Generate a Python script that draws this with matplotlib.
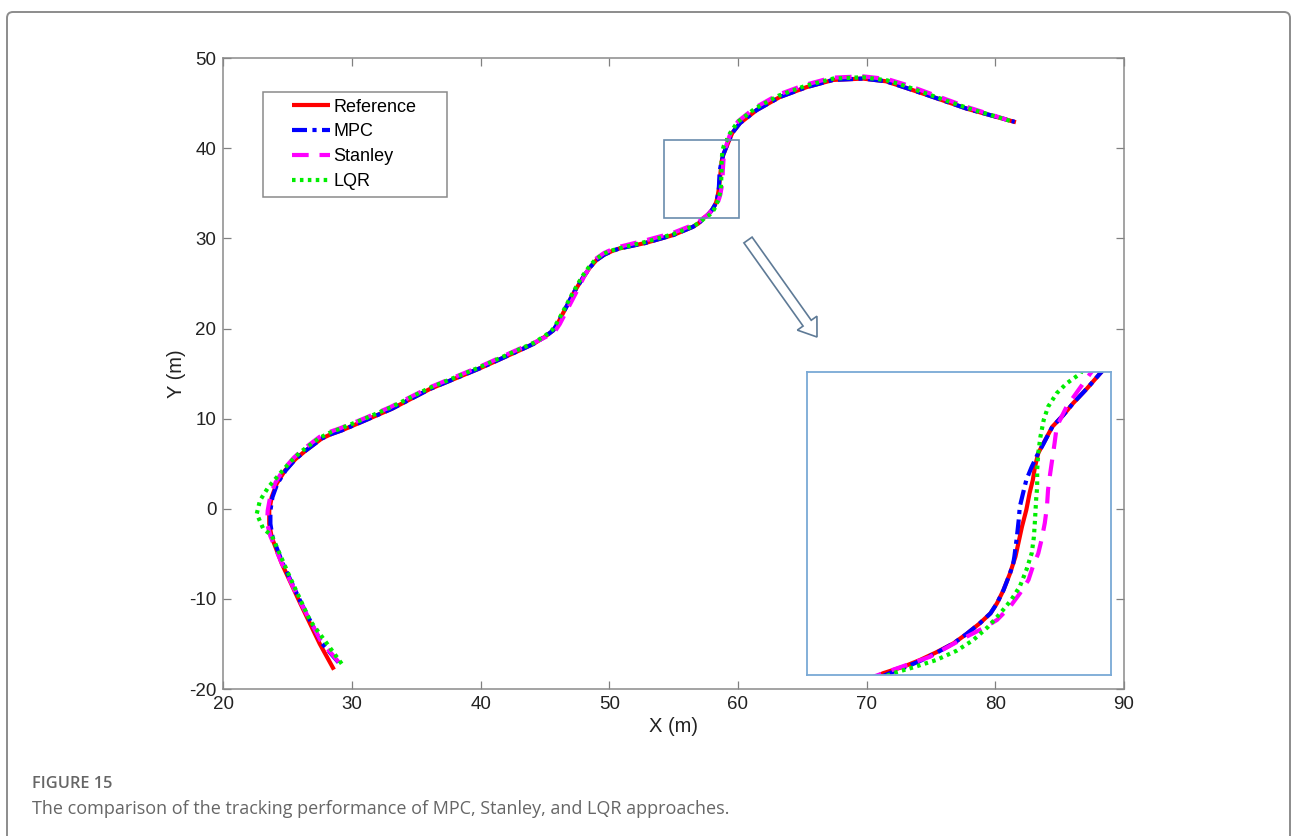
import matplotlib
matplotlib.use("Agg")
import matplotlib.pyplot as plt
from matplotlib.patches import Rectangle, FancyArrow, FancyBboxPatch
from matplotlib.transforms import IdentityTransform

# ---------------- data, by path section ----------------
# Reference
ref_x_start = [28.6, 27.5, 26.0, 24.55, 23.76, 23.57, 23.57, 23.76, 24.15, 24.8]
ref_y_start = [-17.85, -15.0, -10.55, -6.1, -3.15, -1.67, -0.2, 1.3, 2.8, 4.26]
ref_x_mid = [25.6, 26.35, 27.65, 28.4, 29.2, 31.0, 33.1, 36.06, 39.95, 43.05, 44.1, 45.0, 45.64,
             46.0, 46.4, 47.2, 47.97, 48.5, 49.0, 49.6, 50.2, 50.8, 52.8, 55.0, 56.5, 56.95]
ref_y_mid = [5.5, 6.4, 7.8, 8.3, 8.7, 9.8, 11.1, 13.3, 15.6, 17.6, 18.3, 19.1, 19.8,
             20.6, 21.7, 23.9, 25.7, 26.8, 27.6, 28.2, 28.6, 28.9, 29.5, 30.4, 31.3, 31.7]
ref_x_zoom = [57.3, 57.49, 57.64, 57.79, 57.95, 58.07, 58.19, 58.29, 58.35, 58.41, 58.47, 58.50,
              58.52, 58.58, 58.62, 58.65, 58.68, 58.70, 58.73, 58.77, 58.81, 58.86, 58.96, 59.05,
              59.18, 59.30]
ref_y_zoom = [32.25, 32.44, 32.63, 32.85, 33.11, 33.38, 33.68, 33.97, 34.26, 34.64, 35.12, 35.41,
              35.6, 36.46, 36.94, 37.42, 37.80, 38.18, 38.57, 38.81, 39.04, 39.33, 39.66, 40.0,
              40.43, 40.86]
ref_x_end = [59.55, 60.15, 61.45, 63.25, 65.33, 67.4, 69.7, 71.5, 73.1, 75.17, 77.8, 81.6]
ref_y_end = [41.7, 42.8, 44.25, 45.7, 46.8, 47.6, 47.75, 47.45, 46.7, 45.7, 44.4, 42.9]

# MPC
mpc_x_start = [28.95, 27.6, 26.05, 24.6, 23.82, 23.66, 23.66, 23.82, 24.2, 24.85]
mpc_y_start = [-17.05, -14.8, -10.45, -6.0, -3.1, -1.67, -0.2, 1.3, 2.8, 4.26]
mpc_x_mid = ref_x_mid
mpc_y_mid = ref_y_mid
mpc_x_zoom = [57.36, 57.52, 57.66, 57.80, 57.95, 58.07, 58.19, 58.29, 58.35, 58.41, 58.47, 58.50,
              58.51, 58.53, 58.55, 58.56, 58.59, 58.62, 58.67, 58.72, 58.78, 58.86, 58.96, 59.05,
              59.18, 59.30]
mpc_y_zoom = [32.25, 32.44, 32.63, 32.85, 33.11, 33.38, 33.68, 33.97, 34.26, 34.64, 35.12, 35.41,
              35.6, 36.08, 36.65, 37.03, 37.42, 37.8, 38.18, 38.51, 38.85, 39.33, 39.66, 40.0,
              40.43, 40.86]
mpc_x_end = [59.55, 60.15, 61.45, 63.25, 65.33, 67.4, 69.7, 71.5, 73.1, 75.17, 77.8, 81.5]
mpc_y_end = [41.7, 42.8, 44.25, 45.7, 46.8, 47.6, 47.75, 47.45, 46.7, 45.7, 44.4, 42.95]

# Stanley
stan_x_start = [28.95, 27.55, 26.0, 24.5, 23.65, 23.4, 23.45, 23.65, 24.05, 24.7]
stan_y_start = [-17.0, -14.6, -10.4, -5.9, -3.0, -1.6, -0.2, 1.4, 2.9, 4.4]
stan_x_mid = [25.5, 26.2, 27.5, 28.3, 29.1, 30.9, 33.0, 36.0, 39.9, 43.0, 44.1, 45.1, 45.8,
              46.15, 46.55, 47.35, 48.05, 48.55, 49.0, 49.6, 50.15, 50.7, 52.7, 54.9, 56.4, 56.9]
stan_y_mid = [5.7, 6.6, 8.0, 8.55, 8.95, 10.0, 11.3, 13.45, 15.75, 17.75, 18.4, 19.1, 19.75,
              20.5, 21.6, 23.8, 25.8, 27.0, 27.8, 28.4, 28.75, 29.05, 29.75, 30.6, 31.45, 31.8]
stan_x_zoom = [57.30, 57.52, 57.73, 57.90, 58.07, 58.22, 58.35, 58.47, 58.56, 58.64, 58.68,
               58.73, 58.76, 58.79, 58.81, 58.82, 58.84, 58.88, 58.90, 58.99, 59.10, 59.21]
stan_y_zoom = [32.25, 32.49, 32.72, 33.01, 33.3, 33.54, 33.78, 34.16, 34.54, 34.93, 35.31,
               35.69, 36.08, 36.56, 37.03, 37.51, 37.99, 38.85, 39.33, 39.9, 40.38, 40.86]
stan_x_end = [59.45, 60.0, 61.3, 63.1, 65.2, 67.3, 69.7, 71.6, 73.2, 75.2, 77.8, 81.3]
stan_y_end = [41.8, 43.0, 44.5, 45.95, 47.05, 47.85, 48.0, 47.7, 47.0, 45.95, 44.6, 43.0]

# LQR
lqr_x_start = [29.2, 26.74, 25.18, 23.76, 23.1, 22.6, 22.85, 23.5, 24.4]
lqr_y_start = [-17.2, -12.4, -7.6, -2.97, -2.2, -0.55, 0.92, 2.4, 3.9]
lqr_x_mid = [25.2, 26.0, 27.4, 28.2, 29.0, 30.9, 33.0, 36.0, 39.9, 43.0, 44.1, 45.0, 45.6,
             45.95, 46.35, 47.15, 47.9, 48.45, 48.95, 49.55, 50.15, 50.75, 52.75, 55.0, 56.55, 57.0]
lqr_y_mid = [5.2, 6.3, 7.8, 8.4, 8.85, 9.95, 11.25, 13.4, 15.7, 17.7, 18.4, 19.2, 19.9,
             20.7, 21.75, 23.95, 25.8, 26.9, 27.7, 28.3, 28.65, 28.9, 29.6, 30.5, 31.4, 31.75]
lqr_x_zoom = [57.39, 57.58, 57.79, 57.98, 58.13, 58.27, 58.38, 58.48, 58.56, 58.62, 58.67, 58.69,
              58.70, 58.71, 58.72, 58.72, 58.73, 58.75, 58.78, 58.82, 58.90, 58.99, 59.12, 59.18]
lqr_y_zoom = [32.25, 32.42, 32.63, 32.9, 33.2, 33.59, 33.97, 34.35, 34.74, 35.21, 35.7, 36.17,
              36.65, 37.22, 37.61, 38.08, 38.57, 39.04, 39.52, 39.9, 40.29, 40.57, 40.86, 41.24]
lqr_x_end = [59.95, 61.3, 63.15, 65.25, 67.4, 69.7, 71.6, 73.15, 75.2, 77.8, 81.4]
lqr_y_end = [42.9, 44.4, 45.85, 46.95, 47.75, 47.9, 47.55, 46.85, 45.8, 44.5, 42.95]

series_names = ["Reference", "MPC", "Stanley", "LQR"]
x_ticks = [20, 30, 40, 50, 60, 70, 80, 90]
y_ticks = [-20, -10, 0, 10, 20, 30, 40, 50]
caption_label = "FIGURE 15"
caption_text = "The comparison of the tracking performance of MPC, Stanley, and LQR approaches."

ref_x = ref_x_start + ref_x_mid + ref_x_zoom + ref_x_end
ref_y = ref_y_start + ref_y_mid + ref_y_zoom + ref_y_end
mpc_x = mpc_x_start + mpc_x_mid + mpc_x_zoom + mpc_x_end
mpc_y = mpc_y_start + mpc_y_mid + mpc_y_zoom + mpc_y_end
stan_x = stan_x_start + stan_x_mid + stan_x_zoom + stan_x_end
stan_y = stan_y_start + stan_y_mid + stan_y_zoom + stan_y_end
lqr_x = lqr_x_start + lqr_x_mid + lqr_x_zoom + lqr_x_end
lqr_y = lqr_y_start + lqr_y_mid + lqr_y_zoom + lqr_y_end

# ---------------- styling ----------------
W, H = 1292, 836
fig = plt.figure(figsize=(W / 100, H / 100), dpi=100)
fig.patch.set_facecolor("white")
font = ["Liberation Sans", "DejaVu Sans"]

styles = [
    dict(color="#ff0000", lw=3.0, ls="-"),
    dict(color="#0000ff", lw=3.0, ls=(0, (3.6, 1.3, 1.0, 1.3))),
    dict(color="#ff00ff", lw=3.0, ls=(0, (4.0, 2.6))),
    dict(color="#00ee00", lw=3.0, ls=(0, (0.85, 1.05))),
]
data = [(ref_x, ref_y), (mpc_x, mpc_y), (stan_x, stan_y), (lqr_x, lqr_y)]

ax_l, ax_r = 223.3 / W, 1124 / W
ax_b, ax_t = (H - 689) / H, (H - 58.3) / H
ax = fig.add_axes([ax_l, ax_b, ax_r - ax_l, ax_t - ax_b])

for (xs, ys), st, name in zip(data, styles, series_names):
    ax.plot(xs, ys, color=st["color"], lw=st["lw"], linestyle=st["ls"], label=name,
            solid_capstyle="butt", dash_capstyle="butt", solid_joinstyle="round")

ax.set_xlim(20, 90)
ax.set_ylim(-20, 50)
ax.set_xticks(x_ticks)
ax.set_yticks(y_ticks)
ax.set_xticklabels([str(t) for t in x_ticks], fontfamily=font, fontsize=13.5, color="#222222")
ax.set_yticklabels([str(t) for t in y_ticks], fontfamily=font, fontsize=13.5, color="#222222")
ax.tick_params(direction="in", top=True, right=True, length=5.5, width=0.9,
               color="#808080", pad=5)
for s in ax.spines.values():
    s.set_color("#8a8a8a")
    s.set_linewidth(1.1)
ax.set_xlabel("X (m)", fontfamily=font, fontsize=14.5, color="#222222", labelpad=3)
ax.set_ylabel("Y (m)", fontfamily=font, fontsize=14.5, color="#222222", labelpad=2)

# legend (frameless) + MATLAB-like frame
leg = ax.legend(loc="center left", bbox_to_anchor=(0.0759, 0.8638), frameon=False,
                prop={"family": font, "size": 13}, handlelength=2.1, handletextpad=0.2,
                labelspacing=0.43, borderpad=0, borderaxespad=0)
ax.add_patch(Rectangle((0.0444, 0.7806), 0.2043, 0.1664, transform=ax.transAxes,
                       fill=False, edgecolor="#8a8a8a", lw=1.1, zorder=5))

# small zoom box in main axes
ax.add_patch(Rectangle((54.25, 32.25), 5.8, 8.65, fill=False, edgecolor="#6a8cad",
                       lw=1.2, zorder=6))

# hollow arrow (pixel coordinates)
arr = FancyArrow(748, H - 240, 69, -97, width=10, head_width=24, head_length=17,
                 length_includes_head=True, transform=IdentityTransform(),
                 facecolor="white", edgecolor="#5e7a96", lw=1.2)
fig.patches.append(arr)

# inset axes
in_l, in_r = 807 / W, 1111 / W
in_b, in_t = (H - 675) / H, (H - 372) / H
axi = fig.add_axes([in_l, in_b, in_r - in_l, in_t - in_b])
for (xs, ys), st in zip(data, styles):
    axi.plot(xs, ys, color=st["color"], lw=st["lw"], linestyle=st["ls"],
             solid_capstyle="butt", dash_capstyle="butt", solid_joinstyle="round")
axi.set_xlim(56.6, 59.4)
axi.set_ylim(32.2, 40.9)
axi.set_xticks([])
axi.set_yticks([])
for s in axi.spines.values():
    s.set_color("#79a9d6")
    s.set_linewidth(1.3)

# outer border and caption
border = FancyBboxPatch((7, -30), 1283, H - 12 + 30, boxstyle="round,pad=0,rounding_size=6",
                        transform=IdentityTransform(), fill=False, edgecolor="#8c8c8c", lw=1.4)
fig.patches.append(border)
fig.text(32 / W, 1 - 784 / H, caption_label, fontfamily=["Open Sans", "DejaVu Sans"],
         fontsize=11.8, fontweight="semibold", color="#666666", va="center", ha="left")
fig.text(32 / W, 1 - 809 / H, caption_text, fontfamily=["Open Sans", "DejaVu Sans"],
         fontsize=13.0, color="#666666", va="center", ha="left")

fig.savefig("out.png", dpi=100, facecolor="white")
